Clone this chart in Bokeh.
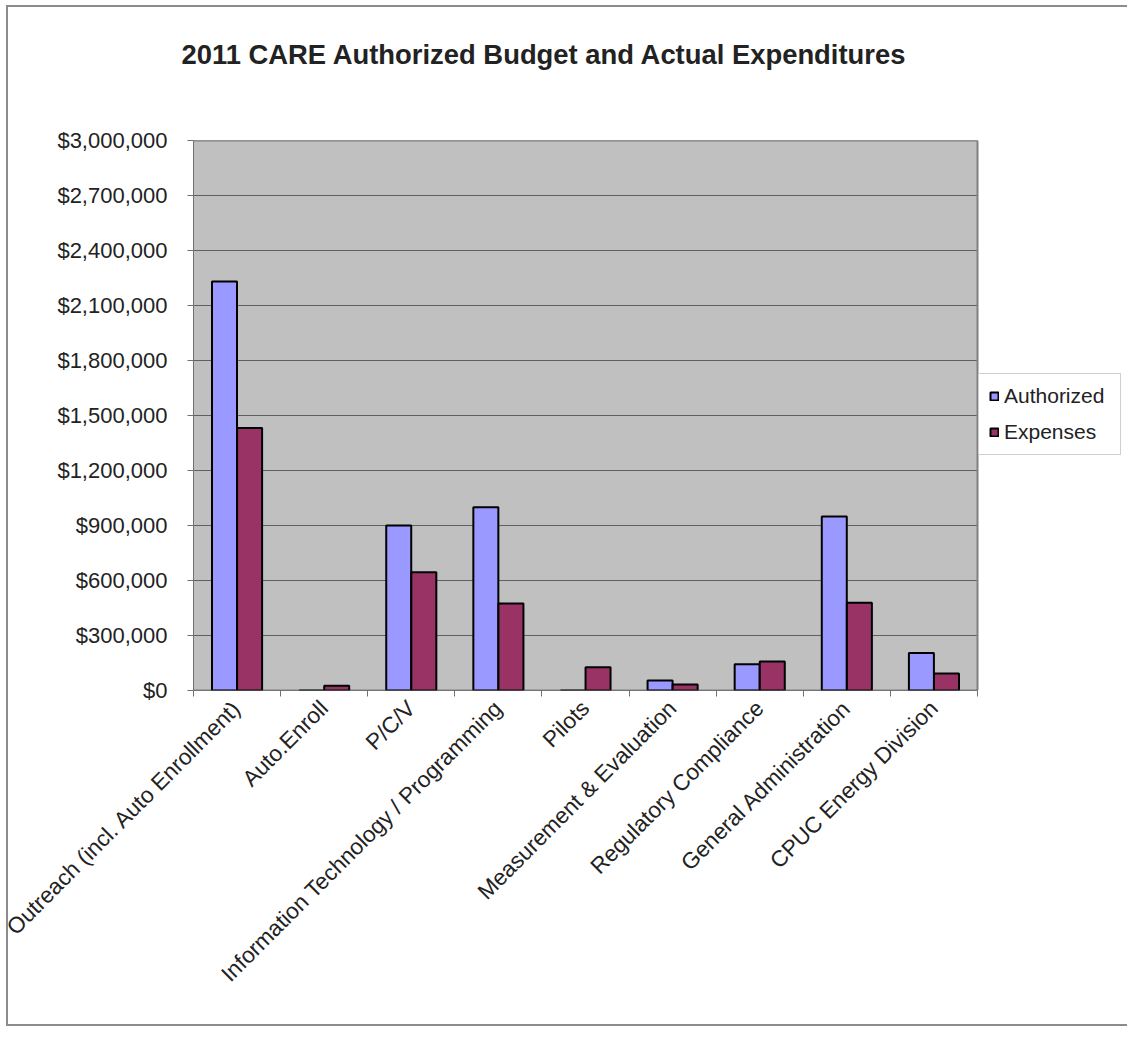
import math
from bokeh.plotting import figure
from bokeh.models import (FixedTicker, NumeralTickFormatter, Legend, LegendItem,
                          Range1d, ColumnDataSource, InlineStyleSheet, Title)
from bokeh.embed import file_html
from bokeh.resources import INLINE

title_text = "2011 CARE Authorized Budget and Actual Expenditures"
categories = ["Outreach (incl. Auto Enrollment)", "Auto.Enroll", "P/C/V",
              "Information Technology / Programming", "Pilots",
              "Measurement & Evaluation", "Regulatory Compliance",
              "General Administration", "CPUC Energy Division"]
authorized = [2231000, 0, 900000, 1000000, 0, 54500, 143000, 949000, 205000]
expenses = [1432000, 25600, 645000, 475000, 127000, 33000, 158000, 478000, 93000]
y_ticks = [0, 300000, 600000, 900000, 1200000, 1500000, 1800000,
           2100000, 2400000, 2700000, 3000000]
series_names = ["Authorized", "Expenses"]
series_colors = ["#9999FF", "#993366"]

# layout (pixels)
W, H = 1127, 1038
LEFT, TOP, BOTTOM = 193, 140, 348
AREA_W = 784          # width of the grey plotting area
FONT = "Liberation Sans"

n = len(categories)
pos = list(range(n))
x0, x1 = -0.5, n - 0.5
frame_w = W - LEFT
x_max = x0 + (x1 - x0) * frame_w / AREA_W
y_top = y_ticks[-1]

bar_w = 0.287
off = 0.144
src = ColumnDataSource(dict(
    xa=[p_ - off for p_ in pos], xe=[p_ + off for p_ in pos],
    auth=authorized, exp=expenses))

p = figure(width=W, height=H, output_backend="svg", toolbar_location=None,
           x_range=Range1d(x0, x_max), y_range=Range1d(0, y_top),
           min_border_left=LEFT, min_border_right=0, min_border_top=TOP,
           min_border_bottom=BOTTOM, title=None)
p.background_fill_color = "white"
p.border_fill_color = "white"
p.outline_line_color = None

# grey plotting area, grid lines
p.quad(left=[x0], right=[x1], bottom=[0], top=[y_top],
       fill_color="#C0C0C0", line_color=None)
p.segment(x0=[x0] * len(y_ticks), x1=[x1] * len(y_ticks), y0=y_ticks, y1=y_ticks,
          line_color="#606060", line_width=1)

r1 = p.vbar(x="xa", top="auth", width=bar_w, source=src,
            fill_color=series_colors[0], line_color="black", line_width=2)
r2 = p.vbar(x="xe", top="exp", width=bar_w, source=src,
            fill_color=series_colors[1], line_color="black", line_width=2)

# plot area border (top/right) and category axis line
p.line(x=[x0, x1, x1], y=[y_top, y_top, 0], line_color="#808080", line_width=2)
p.segment(x0=[x0], x1=[x1], y0=[0], y1=[0], line_color="#404040", line_width=1.5)

# spacer between frame and title, then the title above it
spacer = Title(text=" ", text_font_size="1px", standoff=66)
p.add_layout(spacer, "above")
main_title = Title(text=title_text, text_font=FONT, text_font_size="27.4px",
                   text_font_style="bold", text_color="#222222", align="left",
                   offset=-12, standoff=0, vertical_align="top")
p.add_layout(main_title, "above")

# y axis
p.yaxis.ticker = FixedTicker(ticks=y_ticks)
p.yaxis.formatter = NumeralTickFormatter(format="$0,0")
p.yaxis.major_label_text_font = FONT
p.yaxis.major_label_text_font_size = "22px"
p.yaxis.major_label_text_color = "#222222"
p.yaxis.major_tick_out = 6
p.yaxis.major_tick_in = 0
p.yaxis.minor_tick_line_color = None
p.yaxis.major_label_standoff = 20
p.yaxis.axis_line_color = "#707070"
p.yaxis.major_tick_line_color = "#707070"

# x axis
p.xaxis.ticker = FixedTicker(ticks=pos, minor_ticks=[i - 0.5 for i in range(n + 1)])
p.xaxis.major_label_overrides = {i: c for i, c in enumerate(categories)}
p.xaxis.major_label_orientation = math.pi / 4
p.xaxis.major_label_text_font = FONT
p.xaxis.major_label_text_font_size = "22.5px"
p.xaxis.major_label_text_color = "#222222"
p.xaxis.major_tick_out = 0
p.xaxis.major_tick_in = 0
p.xaxis.minor_tick_out = 6
p.xaxis.minor_tick_in = 0
p.xaxis.minor_tick_line_color = "#707070"
p.xaxis.axis_line_color = None
p.xaxis.major_label_standoff = 8

p.xgrid.grid_line_color = None
p.ygrid.grid_line_color = None

legend = Legend(items=[LegendItem(label=series_names[0], renderers=[r1]),
                       LegendItem(label=series_names[1], renderers=[r2])],
                location=(968 + 10 - LEFT, H - BOTTOM - 455), orientation="vertical")
legend.label_text_font = FONT
legend.label_text_font_size = "21px"
legend.label_text_color = "#222222"
legend.glyph_width = 10
legend.glyph_height = 10
legend.label_height = 20
legend.label_width = 106
legend.spacing = 12
legend.padding = 10
legend.margin = 0
legend.label_standoff = 5
legend.border_line_color = "#A0A0A0"
legend.border_line_width = 1
legend.background_fill_color = "white"
legend.background_fill_alpha = 1
p.add_layout(legend, "center")

p.stylesheets = [InlineStyleSheet(css=(
    ":host{position:relative;}"
    ":host::after{content:'';position:absolute;left:6px;top:5px;width:1121px;"
    "height:1021px;border:2px solid #8c8c8c;border-right:none;"
    "box-sizing:border-box;pointer-events:none;z-index:10;}"))]

open("out.html", "w").write(file_html(p, INLINE))
